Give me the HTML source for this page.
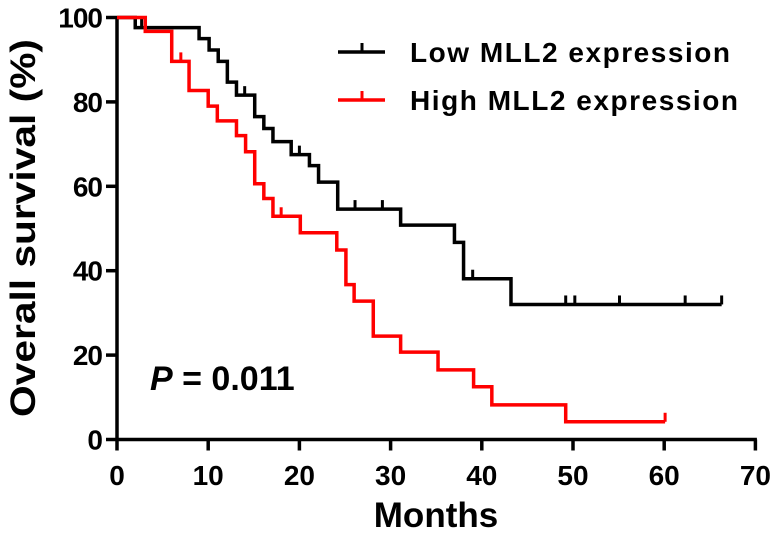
<!DOCTYPE html>
<html><head><meta charset="utf-8"><style>
html,body{margin:0;padding:0;background:#fff}
svg{display:block;font-family:"Liberation Sans",Arial,sans-serif;font-weight:bold}
</style></head><body>
<svg id="chart" width="774" height="537" viewBox="0 0 774 537">
<g id="axes"></g>
<g id="series"></g>
<text transform="translate(35,228) rotate(-90)" text-anchor="middle" font-size="35" textLength="378" lengthAdjust="spacingAndGlyphs">Overall survival (%)</text>
<text x="436" y="527" text-anchor="middle" font-size="35">Months</text>
<text x="150" y="390" font-size="34"><tspan font-style="italic">P</tspan> = 0.011</text>
<g>
<g><line x1="338" y1="52" x2="385" y2="52" stroke="#000" stroke-width="3.5"/><line x1="362" y1="52" x2="362" y2="43" stroke="#000" stroke-width="3"/><text x="410" y="62" font-size="28" textLength="320" lengthAdjust="spacing">Low MLL2 expression</text></g>
<g><line x1="338" y1="100" x2="385" y2="100" stroke="#f00" stroke-width="3.5"/><line x1="362" y1="100" x2="362" y2="91" stroke="#f00" stroke-width="3"/><text x="410" y="110" font-size="28" textLength="328" lengthAdjust="spacing">High MLL2 expression</text></g>
</g>
</svg>
<script>
const xTicks=[0,10,20,30,40,50,60,70];
const yTicks=[0,20,40,60,80,100];
const lowTimes=[0,2,9,10.1,11.1,12.1,13.1,15.1,16.1,17.1,19.1,21.1,22.1,24.2,31.1,37,38,43.2];
const lowSurv=[100,97.6,95,92.3,89.6,84.7,81.6,76.5,73.7,70.6,67.5,64.9,61,54.6,50.8,46.7,38.1,32];
const lowEnd=66.3;
const lowCensor=[2.7,14,20,26.1,29.1,39,49.2,50.2,55.1,62.3,66.3];
const highTimes=[0,3.1,6,7.9,10,11,13.1,14.1,15.1,16.1,17.1,20.1,24.1,25.1,26,28.1,31.1,35.2,39.1,41.1,49.2];
const highSurv=[100,96.7,89.6,82.7,79,75.5,72,68.2,60.6,57.1,52.9,49,44.9,36.7,32.8,24.5,20.7,16.5,12.5,8.2,4.2];
const highEnd=60.1;
const highCensor=[7,18,60.1];
const X=v=>117+v*9.12, Y=v=>439.5-v*4.22;
const NS='http://www.w3.org/2000/svg';
const ax=document.getElementById('axes'), se=document.getElementById('series');
function mk(tag,attrs,parent){const e=document.createElementNS(NS,tag);for(const k in attrs)e.setAttribute(k,attrs[k]);parent.appendChild(e);return e;}
const xl=mk('line',{x1:X(0)-1.5,y1:Y(0),x2:X(70)+1.5,y2:Y(0),stroke:'#000','stroke-width':3.5},ax);


const yl=mk('line',{x1:X(0),y1:Y(0),x2:X(0),y2:Y(100),stroke:'#000','stroke-width':3.5},ax);


xTicks.forEach(t=>{
 const l=mk('line',{x1:X(t),y1:Y(0),x2:X(t),y2:Y(0)+11,stroke:'#000','stroke-width':3.5},ax);
 
 
 const tx=mk('text',{x:X(t),y:485,'text-anchor':'middle','font-size':28},ax);tx.textContent=t;
 
 
});
yTicks.forEach(t=>{
 const l=mk('line',{x1:X(0)-11,y1:Y(t),x2:X(0),y2:Y(t),stroke:'#000','stroke-width':3.5},ax);
 
 
 const tx=mk('text',{x:102,y:Y(t)+10,'text-anchor':'end','font-size':28,'letter-spacing':'-1'},ax);tx.textContent=t;
 
 
});
function survAt(times,surv,t){let s=surv[0];for(let i=0;i<times.length;i++)if(times[i]<=t)s=surv[i];return s;}
function draw(times,surv,end,cens,color,name){
 let d='M'+X(times[0])+','+Y(surv[0]);
 for(let i=1;i<times.length;i++){d+='H'+X(times[i])+'V'+Y(surv[i]);}
 d+='H'+X(end);
 const p=mk('path',{d:d,fill:'none',stroke:color,'stroke-width':3.5},se);
 
 
 cens.forEach(c=>{const s=survAt(times,surv,c);
  const m=mk('line',{x1:X(c),y1:Y(s),x2:X(c),y2:Y(s)-9,stroke:color,'stroke-width':3},se);
  
  });
}
draw(lowTimes,lowSurv,lowEnd,lowCensor,'#000','low-mll2');
draw(highTimes,highSurv,highEnd,highCensor,'#f00','high-mll2');
</script>
</body></html>
